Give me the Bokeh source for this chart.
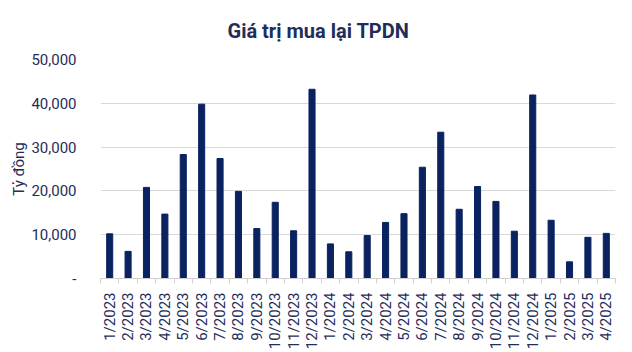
from bokeh.plotting import figure
from bokeh.models import Range1d, FixedTicker, CustomJSTickFormatter, Title
from bokeh.embed import file_html
from bokeh.resources import INLINE
import math

months = ["1/2023", "2/2023", "3/2023", "4/2023", "5/2023", "6/2023", "7/2023",
          "8/2023", "9/2023", "10/2023", "11/2023", "12/2023",
          "1/2024", "2/2024", "3/2024", "4/2024", "5/2024", "6/2024", "7/2024",
          "8/2024", "9/2024", "10/2024", "11/2024", "12/2024",
          "1/2025", "2/2025", "3/2025", "4/2025"]
values = [10200, 6200, 20800, 14700, 28300, 39800, 27400,
          19900, 11400, 17400, 10900, 43200,
          7900, 6100, 9800, 12800, 14800, 25400, 33400,
          15800, 21000, 17600, 10800, 41900,
          13300, 3800, 9400, 10300]
y_ticks = [0, 10000, 20000, 30000, 40000, 50000]

NAVY = "#0b2260"
TEXT = "#1f2d5a"
FONT = "Roboto"

idx = list(range(len(months)))

p = figure(width=632, height=352, output_backend="svg", toolbar_location=None,
           x_range=Range1d(-0.5, len(months) - 0.5), y_range=Range1d(0, 50000),
           min_border_left=100, min_border_right=17, min_border_top=59,
           min_border_bottom=74)
p.title = Title(text="Giá trị mua lại TPDN", align="left", vertical_align="top",
                text_font=FONT, text_font_size="20px", text_font_style="bold",
                text_color=TEXT, offset=127, standoff=30)

p.vbar(x=idx, top=values, width=0.33, color=NAVY)

p.outline_line_color = None
p.background_fill_color = "white"
p.border_fill_color = "white"

# x axis
xa = p.xaxis[0]
xa.ticker = FixedTicker(ticks=idx, minor_ticks=[i - 0.5 for i in range(len(months) + 1)])
xa.major_label_overrides = {i: m for i, m in enumerate(months)}
xa.major_label_orientation = math.pi / 2
xa.major_label_text_font = FONT
xa.major_label_text_font_size = "15px"
xa.major_label_text_color = TEXT
xa.major_label_standoff = 8
xa.major_tick_line_color = None
xa.minor_tick_line_color = "#d0d0d0"
xa.minor_tick_in = 0
xa.minor_tick_out = 5
xa.axis_line_color = "#d0d0d0"
p.xgrid.grid_line_color = None

# y axis
ya = p.yaxis[0]
ya.ticker = FixedTicker(ticks=y_ticks)
ya.formatter = CustomJSTickFormatter(code="return tick == 0 ? '-' : tick.toLocaleString('en-US');")
ya.major_label_text_font = FONT
ya.major_label_text_font_size = "15px"
ya.major_label_text_color = TEXT
ya.major_label_standoff = 18
ya.major_tick_line_color = None
ya.minor_tick_line_color = None
ya.axis_line_color = None
ya.axis_label = "Tỷ đồng"
ya.axis_label_text_font = FONT
ya.axis_label_text_font_size = "15px"
ya.axis_label_text_font_style = "normal"
ya.axis_label_text_color = TEXT
ya.axis_label_standoff = 0
p.ygrid.ticker = FixedTicker(ticks=y_ticks)
p.ygrid.grid_line_color = "#d9d9d9"
p.ygrid.grid_line_width = 1

open("out.html", "w").write(file_html(p, INLINE))
